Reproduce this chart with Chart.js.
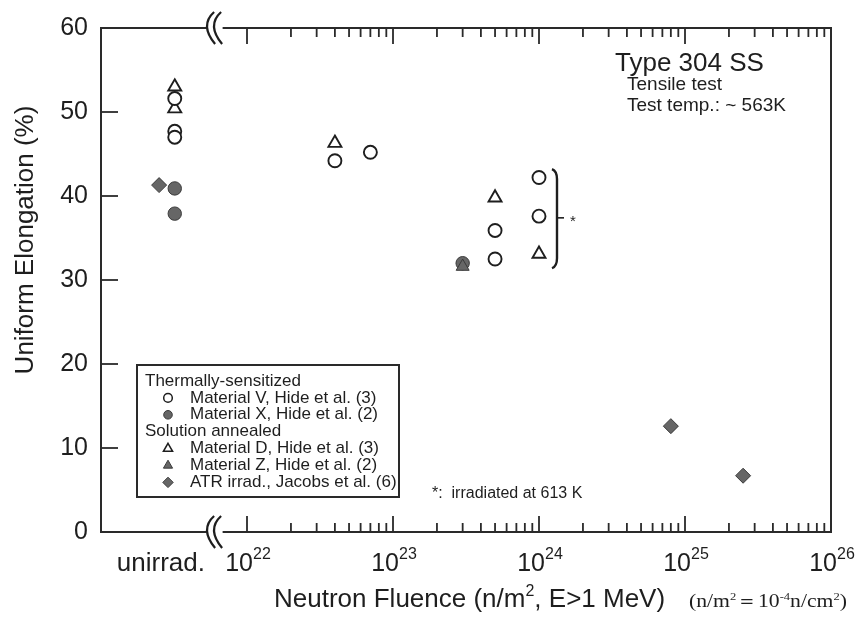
<!DOCTYPE html>
<html><head><meta charset="utf-8">
<script src="https://cdn.jsdelivr.net/npm/chart.js@4/dist/chart.umd.min.js"></script>
<style>html,body{margin:0;padding:0;background:#fff;}canvas{display:block;}</style>
</head><body>
<canvas id="c" width="857" height="623"></canvas>
<script>
// ---------- DATA ----------
const UNIRRAD = 'unirrad';
// Neutron fluence (n/m^2, E>1 MeV); 'unirrad' = unirradiated reference
const matV_fluence = [UNIRRAD, UNIRRAD, UNIRRAD, 4e22, 7e22, 5e23, 5e23, 1e24, 1e24];
const matV_elong   = [51.6, 47.7, 47.0, 44.2, 45.2, 35.9, 32.5, 42.2, 37.6];
const matX_fluence = [UNIRRAD, UNIRRAD, 3e23];
const matX_elong   = [40.9, 37.9, 32.0];
const matD_fluence = [UNIRRAD, UNIRRAD, 4e22, 5e23, 1e24];
const matD_elong   = [53.0, 50.4, 46.3, 39.8, 33.1];
const matZ_fluence = [3e23];
const matZ_elong   = [31.6];
const atr_fluence  = [UNIRRAD, 8e24, 2.5e25];
const atr_elong    = [41.3, 12.6, 6.7];
const yTickValues  = [0, 10, 20, 30, 40, 50, 60];
const xDecades     = [22, 23, 24, 25, 26];
const unirradLabel = 'unirrad.';
const legendHeaders = ['Thermally-sensitized', 'Solution annealed'];
const legendLabels = ['Material V, Hide et al. (3)', 'Material X, Hide et al. (2)',
  'Material D, Hide et al. (3)', 'Material Z, Hide et al. (2)', 'ATR irrad., Jacobs et al. (6)'];

// placement of the "unirrad." column on the broken log axis
const UNIRRAD_POS = 3.2e21, UNIRRAD_POS_ATR = 2.5e21;

function pts(fl, el, upos) {
  return fl.map((f, i) => ({x: f === UNIRRAD ? upos : f, y: el[i]}));
}

const FONT = "'Liberation Sans', Arial, Helvetica, sans-serif";
const SERIF = "'Liberation Serif', 'DejaVu Serif', serif";
const INK = '#1e1e1e';
const GRAY = '#666666';

function ds(label, data, style, filled, r) {
  return {
    label, data, pointStyle: style, pointRadius: r, pointHoverRadius: r,
    pointBackgroundColor: filled ? GRAY : '#ffffff',
    pointBorderColor: filled ? '#3a3a3a' : INK,
    pointBorderWidth: filled ? 1 : 1.9, showLine: false
  };
}

const datasets = [
  ds(legendLabels[3], pts(matZ_fluence, matZ_elong, UNIRRAD_POS), 'triangle', true, 7.5),
  ds(legendLabels[1], pts(matX_fluence, matX_elong, UNIRRAD_POS), 'circle', true, 6.7),
  ds(legendLabels[0], pts(matV_fluence, matV_elong, UNIRRAD_POS), 'circle', false, 6.5),
  ds(legendLabels[2], pts(matD_fluence, matD_elong, UNIRRAD_POS), 'triangle', false, 7.5),
  ds(legendLabels[4], pts(atr_fluence, atr_elong, UNIRRAD_POS_ATR), 'rectRot', true, 7.5)
];

// ---------- helpers ----------
function drawRich(ctx, parts, x, y, align, base, supSize, supRise, family, fitWidth) {
  let w = 0;
  parts.forEach(p => { ctx.font = (p.sup ? supSize : base) + 'px ' + family; p.w = ctx.measureText(p.t).width; w += p.w; });
  const sx = fitWidth ? fitWidth / w : 1;
  let cx = align === 'center' ? x - w * sx / 2 : (align === 'right' ? x - w * sx : x);
  ctx.textAlign = 'left'; ctx.textBaseline = 'alphabetic';
  parts.forEach(p => {
    ctx.font = (p.sup ? supSize : base) + 'px ' + family;
    ctx.save();
    ctx.translate(cx, p.sup ? y - supRise : y);
    ctx.scale(sx, 1);
    ctx.fillText(p.t, 0, 0);
    ctx.restore();
    cx += p.w * sx;
  });
}

function marker(ctx, style, x, y, r, filled) {
  ctx.save();
  ctx.beginPath();
  if (style === 'circle') ctx.arc(x, y, r, 0, Math.PI * 2);
  else if (style === 'triangle') {
    for (let k = 0; k < 3; k++) {
      const a = k * 2 * Math.PI / 3;
      const px = x + Math.sin(a) * r, py = y - Math.cos(a) * r;
      k ? ctx.lineTo(px, py) : ctx.moveTo(px, py);
    }
    ctx.closePath();
  } else {
    ctx.moveTo(x - r, y); ctx.lineTo(x, y - r); ctx.lineTo(x + r, y); ctx.lineTo(x, y + r); ctx.closePath();
  }
  ctx.fillStyle = filled ? GRAY : '#fff';
  ctx.strokeStyle = filled ? '#3a3a3a' : INK;
  ctx.lineWidth = filled ? 1 : 1.5;
  ctx.fill(); ctx.stroke();
  ctx.restore();
}

function breakMark(ctx, x, y) {
  ctx.save();
  ctx.fillStyle = '#fff';
  ctx.fillRect(x - 8, y - 3, 16, 6);
  ctx.strokeStyle = INK; ctx.lineWidth = 2.2;
  [-3.5, 3.5].forEach(dx => {
    ctx.beginPath();
    ctx.moveTo(x + dx + 3, y - 16);
    ctx.bezierCurveTo(x + dx - 7, y - 7, x + dx - 6, y + 4, x + dx + 4, y + 16);
    ctx.stroke();
  });
  ctx.restore();
}

const decor = {
  id: 'decor',
  beforeDatasetsDraw(chart) {
    const {ctx, chartArea: a, scales: {x, y}} = chart;
    ctx.save();
    ctx.strokeStyle = '#2a2a2a'; ctx.lineWidth = 2;
    ctx.strokeRect(a.left, a.top, a.right - a.left, a.bottom - a.top);
    ctx.lineWidth = 1.8;
    xDecades.forEach(d => {
      const px = x.getPixelForValue(Math.pow(10, d));
      if (d < 26) {
        ctx.beginPath();
        ctx.moveTo(px, a.bottom); ctx.lineTo(px, a.bottom - 16);
        ctx.moveTo(px, a.top); ctx.lineTo(px, a.top + 16);
        ctx.stroke();
        for (let m = 2; m <= 9; m++) {
          const pm = x.getPixelForValue(m * Math.pow(10, d));
          ctx.beginPath();
          ctx.moveTo(pm, a.bottom); ctx.lineTo(pm, a.bottom - 9);
          ctx.moveTo(pm, a.top); ctx.lineTo(pm, a.top + 9);
          ctx.stroke();
        }
      }
    });
    yTickValues.forEach(v => {
      if (v === 0 || v === 60) return;
      const py = y.getPixelForValue(v);
      ctx.beginPath(); ctx.moveTo(a.left, py); ctx.lineTo(a.left + 17, py); ctx.stroke();
    });
    const bx = x.getPixelForValue(6.0e21);
    breakMark(ctx, bx, a.top);
    breakMark(ctx, bx, a.bottom);
    ctx.restore();
  },
  afterDatasetsDraw(chart) {
    const {ctx, chartArea: a, scales: {x, y}} = chart;
    ctx.save();
    ctx.fillStyle = INK;
    xDecades.forEach(d => {
      const px = x.getPixelForValue(Math.pow(10, d));
      drawRich(ctx, [{t: '10'}, {t: String(d), sup: true}], px + 1, 571, 'center', 25, 16, 12, FONT);
    });
    ctx.font = '26px ' + FONT; ctx.textAlign = 'right'; ctx.textBaseline = 'alphabetic';
    ctx.fillText(unirradLabel, 205, 571);
    // x title
    drawRich(ctx, [{t: 'Neutron Fluence (n/m'}, {t: '2', sup: true}, {t: ', E>1 MeV)'}], 274, 607, 'left', 26, 16, 11, FONT);
    drawRich(ctx, [{t: '(n/m'}, {t: '2', sup: true}, {t: '＝10'}, {t: '-4', sup: true}, {t: 'n/cm'}, {t: '2', sup: true}, {t: ')'}],
      689, 607, 'left', 19, 11, 7, SERIF, 158);
    // y title
    ctx.save();
    ctx.translate(26, 240); ctx.rotate(-Math.PI / 2);
    ctx.font = '26px ' + FONT; ctx.textAlign = 'center'; ctx.textBaseline = 'middle';
    ctx.fillText('Uniform Elongation (%)', 0, 0);
    ctx.restore();
    // annotation top right
    ctx.textAlign = 'left'; ctx.textBaseline = 'alphabetic';
    ctx.font = '26px ' + FONT; ctx.fillText('Type 304 SS', 615, 71);
    ctx.font = '19px ' + FONT; ctx.fillText('Tensile test', 627, 90);
    ctx.fillText('Test temp.: ~ 563K', 627, 111);
    // bracket around irradiated-at-613K data
    const bx = x.getPixelForValue(1e24) + 17;
    const t = y.getPixelForValue(43.2), b = y.getPixelForValue(31.4), m = y.getPixelForValue(37.4);
    ctx.strokeStyle = INK; ctx.lineWidth = 2.4;
    ctx.beginPath();
    ctx.moveTo(bx - 4, t); ctx.quadraticCurveTo(bx + 1, t + 2, bx + 1, t + 10);
    ctx.lineTo(bx + 1, b - 10); ctx.quadraticCurveTo(bx + 1, b - 2, bx - 4, b);
    ctx.stroke();
    ctx.lineWidth = 1.6;
    ctx.beginPath(); ctx.moveTo(bx + 1, m); ctx.lineTo(bx + 8, m); ctx.stroke();
    ctx.font = '15px ' + FONT; ctx.fillText('*', bx + 14, m + 8);
    ctx.font = '16px ' + FONT; ctx.fillText('*:  irradiated at 613 K', 432, 498);
    // legend box
    const L = 137, T = 365, W = 262, H = 132;
    ctx.fillStyle = '#fff'; ctx.fillRect(L, T, W, H);
    ctx.strokeStyle = '#2a2a2a'; ctx.lineWidth = 2; ctx.strokeRect(L, T, W, H);
    ctx.font = '17px ' + FONT;
    const rows = [
      {h: legendHeaders[0]},
      {l: legendLabels[0], s: 'circle', f: false, r: 4.3},
      {l: legendLabels[1], s: 'circle', f: true, r: 4.3},
      {h: legendHeaders[1]},
      {l: legendLabels[2], s: 'triangle', f: false, r: 5.3},
      {l: legendLabels[3], s: 'triangle', f: true, r: 5.3},
      {l: legendLabels[4], s: 'rectRot', f: true, r: 5.2}
    ];
    rows.forEach((row, i) => {
      const cy = 381 + i * 16.9;
      ctx.fillStyle = INK; ctx.textBaseline = 'middle'; ctx.textAlign = 'left';
      if (row.h) ctx.fillText(row.h, 145, cy);
      else { marker(ctx, row.s, 168, cy, row.r, row.f); ctx.fillStyle = INK; ctx.fillText(row.l, 190, cy); }
    });
    ctx.restore();
  }
};

new Chart(document.getElementById('c'), {
  type: 'scatter',
  data: {datasets},
  options: {
    responsive: false, animation: false, devicePixelRatio: 1,
    layout: {padding: {top: 24, right: 26, left: 0, bottom: 0}},
    plugins: {legend: {display: false}, tooltip: {enabled: false}},
    scales: {
      x: {type: 'logarithmic', min: 1e21, max: 1e26,
        grid: {display: false, drawTicks: false}, border: {display: false},
        ticks: {display: false},
        afterFit(s) { s.height = 91; }},
      y: {type: 'linear', min: 0, max: 60,
        afterBuildTicks(s) { s.ticks = yTickValues.map(v => ({value: v})); },
        grid: {display: false, drawTicks: false}, border: {display: false},
        ticks: {font: {family: FONT, size: 25}, color: INK, padding: 13},
        afterFit(s) { s.width = 101; }}
    }
  },
  plugins: [decor]
});
</script>
</body></html>
